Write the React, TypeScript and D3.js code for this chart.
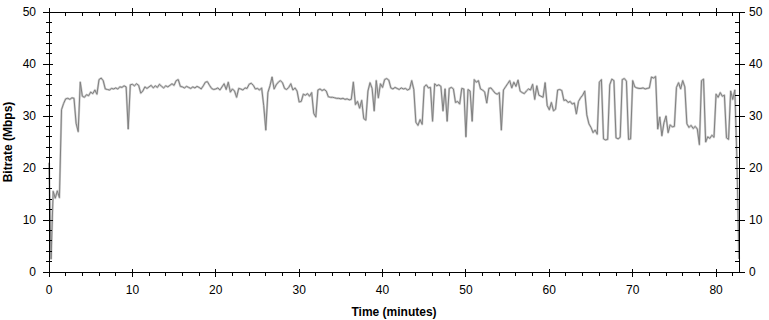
import React from "react";
import * as d3 from "d3";

// sampled every quarter minute, Mbps
const STEP_MIN = 0.25;
const bitrate = [
  21, 2.5, 15.5, 14.2,
  15.6, 14.3, 31.2, 32.4,
  33.3, 33.4, 33.2, 33.5,
  33.4, 28.6, 27.0, 36.5,
  33.8, 33.6, 34.1, 33.9,
  34.6, 34.3, 35.0, 34.2,
  37.0, 37.3, 36.8, 35.2,
  35.1, 35.0, 35.3, 35.2,
  35.4, 35.2, 35.6, 35.5,
  35.8, 35.6, 27.5, 36.0,
  36.1, 35.8, 36.2, 35.9,
  34.4, 34.8, 35.6, 35.3,
  35.6, 35.9, 35.4, 35.8,
  35.5, 36.1, 35.7, 35.4,
  35.8, 35.6, 35.9, 36.2,
  35.9, 36.8, 37.0, 35.7,
  35.6, 35.4, 35.7, 35.5,
  35.3, 35.6, 35.4, 35.7,
  35.5, 35.2, 35.8, 36.5,
  36.6, 35.9, 35.3, 35.1,
  35.2, 35.4, 35.0, 35.6,
  36.2, 35.1, 36.5, 34.6,
  35.2, 34.8, 33.6, 35.3,
  35.2, 35.0, 35.4, 35.3,
  36.1, 36.3, 35.9, 35.2,
  35.3, 35.0, 35.4, 32.0,
  27.3, 34.5, 35.8, 37.5,
  35.2, 36.0, 36.5, 36.8,
  36.4, 35.3, 35.1, 35.5,
  36.2, 35.0, 35.4, 34.8,
  32.7, 32.8, 34.2, 34.0,
  34.3, 33.8, 34.5, 30.5,
  29.8, 35.0, 35.2, 34.9,
  35.1, 34.8, 33.7, 33.6,
  33.6, 33.5, 33.4, 33.4,
  33.3, 33.4, 33.2, 33.3,
  33.1, 33.2, 36.5, 32.2,
  32.8, 31.5, 33.0, 29.5,
  29.2, 34.8, 36.4, 35.3,
  31.0, 36.8, 33.5, 36.2,
  35.5, 37.0, 37.2, 36.9,
  35.4, 35.2, 35.5, 35.3,
  35.1, 35.4, 35.2, 35.3,
  35.0, 35.2, 36.8, 35.1,
  28.8, 28.2, 29.3, 28.4,
  35.6, 36.0, 35.4, 35.5,
  29.0, 36.2, 35.8, 36.0,
  35.7, 31.0, 35.2, 29.0,
  35.3, 35.5, 35.2, 32.6,
  32.8, 32.3, 35.3, 35.2,
  26.0, 35.1, 34.8, 29.0,
  37.0, 36.5, 36.8, 35.2,
  35.0, 34.6, 32.5, 35.3,
  35.4, 34.9, 34.4, 34.2,
  34.5, 27.3, 35.0, 35.6,
  36.2, 36.8, 35.4, 36.5,
  35.7, 36.9, 34.8, 34.5,
  34.3, 34.8, 35.2, 35.0,
  36.1, 33.2, 35.8, 34.0,
  33.8, 33.6, 36.4, 32.0,
  31.2, 32.6, 31.0, 31.3,
  35.0, 35.1, 34.9, 33.0,
  33.1, 32.6, 32.8, 32.3,
  32.5, 30.4, 32.8, 33.5,
  34.0, 34.8, 30.2, 28.5,
  27.8, 26.8, 27.3, 26.5,
  36.5, 37.0, 25.6, 25.4,
  25.5, 36.0, 37.1, 36.8,
  25.8, 25.6, 25.9, 37.0,
  37.2, 36.7, 25.5, 25.6,
  36.8, 35.6, 35.4, 35.3,
  35.3, 35.4, 35.2, 35.3,
  35.4, 37.5, 37.3, 37.6,
  27.5, 29.8, 26.2, 28.7,
  30.0, 26.8, 28.3, 27.9,
  28.0, 35.5, 36.4, 35.2,
  36.8, 35.6, 28.5, 27.8,
  28.2, 27.6, 28.0, 27.5,
  24.5, 36.8, 37.1, 25.0,
  26.0, 25.7, 26.3, 25.9,
  34.2, 33.6, 34.5, 33.8,
  34.0, 25.8, 25.5, 34.8,
  33.2, 35.0, 21.5, 2.5,
];

const xMajor = [0, 10, 20, 30, 40, 50, 60, 70, 80];
const xMinor = d3.range(0, 83, 2);
const yMajor = [0, 10, 20, 30, 40, 50];
const yMinor = d3.range(0, 51, 2);

const W = 769;
const H = 320;
const font = "Arial, 'Liberation Sans', sans-serif";

export default function App() {
  const left = 49, right = 739, top = 12, bottom = 272;
  const x = d3.scaleLinear().domain([0, 82.75]).range([left, right]);
  const y = d3.scaleLinear().domain([0, 50]).range([bottom, top]);

  const line = d3
    .line<number>()
    .x((_, i) => x(i * STEP_MIN))
    .y((d) => y(d));
  const path = line(bitrate) || "";

  return (
    <svg
      width={W}
      height={H}
      style={{ position: "absolute", left: 0, top: 0, background: "#fff" }}
      fontFamily={font}
    >
      <rect x={0} y={0} width={W} height={H} fill="#fff" />
      {/* series: light envelope + average */}
      <path d={path} fill="none" stroke="#cccccc" strokeWidth={2.2} strokeLinejoin="round" />
      <path d={path} fill="none" stroke="#808080" strokeWidth={1} />

      {/* frame */}
      <g stroke="#000" shapeRendering="crispEdges">
        <line x1={left} x2={right} y1={bottom} y2={bottom} />
        <line x1={left} x2={right} y1={top} y2={top} />
        <line x1={left} x2={left} y1={top} y2={bottom} />
        <line x1={right} x2={right} y1={top} y2={bottom} />

        {xMinor.map((t) => (
          <g key={"xm" + t}>
            <line x1={x(t)} x2={x(t)} y1={bottom} y2={bottom + 4} />
            <line x1={x(t)} x2={x(t)} y1={top} y2={top + 4} />
          </g>
        ))}
        {xMajor.map((t) => (
          <g key={"xM" + t}>
            <line x1={x(t)} x2={x(t)} y1={bottom - 3} y2={bottom + 5} />
            <line x1={x(t)} x2={x(t)} y1={top - 4} y2={top + 4} />
          </g>
        ))}
        {yMinor.map((v) => (
          <g key={"ym" + v}>
            <line x1={left - 3} x2={left + 3} y1={y(v)} y2={y(v)} />
            <line x1={right - 4} x2={right} y1={y(v)} y2={y(v)} />
          </g>
        ))}
        {yMajor.map((v) => (
          <g key={"yM" + v}>
            <line x1={left - 6} x2={left + 4} y1={y(v)} y2={y(v)} />
            <line x1={right - 4} x2={right + 6} y1={y(v)} y2={y(v)} />
          </g>
        ))}
      </g>

      {/* tick labels */}
      <g fontSize={12} fill="#000">
        {xMajor.map((t) => (
          <text key={"xl" + t} x={x(t)} y={294} textAnchor="middle">
            {t}
          </text>
        ))}
        {yMajor.map((v) => (
          <text key={"yl" + v} x={36} y={y(v) + 4} textAnchor="end">
            {v}
          </text>
        ))}
        {yMajor.map((v) => (
          <text key={"yr" + v} x={749} y={y(v) + 4} textAnchor="start">
            {v}
          </text>
        ))}
      </g>

      {/* axis titles */}
      <text x={(left + right) / 2} y={316} textAnchor="middle" fontSize={12} fontWeight="bold">
        Time (minutes)
      </text>
      <text
        transform={`translate(12,${(top + bottom) / 2}) rotate(-90)`}
        textAnchor="middle"
        fontSize={12}
        fontWeight="bold"
      >
        Bitrate (Mbps)
      </text>
    </svg>
  );
}
